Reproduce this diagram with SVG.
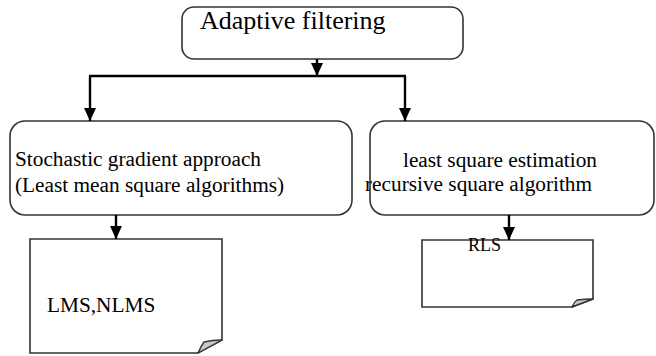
<svg xmlns="http://www.w3.org/2000/svg" width="656" height="356" viewBox="0 0 656 356">
  <defs>
    <marker id="head" markerUnits="userSpaceOnUse" markerWidth="13" markerHeight="12" refX="13" refY="6" orient="auto" viewBox="0 0 13 12">
      <path d="M0 0 L13 6 L0 12 Z" fill="#000"/>
    </marker>
    <style>
      .box { fill: #fff; stroke: #333; stroke-width: 1.6; }
      .flap { fill: #c8c8c8; stroke: #333; stroke-width: 1.4; stroke-linejoin: round; }
      .label { font-family: "Liberation Serif", "Times New Roman", serif; fill: #000; }
      .link { fill: none; stroke: #000; stroke-width: 2.4; }
      .arrow { fill: none; stroke: #000; stroke-width: 2.4; marker-end: url(#head); }
    </style>
  </defs>
  <rect width="656" height="356" fill="#fff"/>

  <g id="adaptive-filtering">
    <rect class="box" x="182" y="7" width="281" height="52" rx="12"/>
    <text class="label" x="200" y="29" font-size="26">Adaptive filtering</text>
  </g>

  <g id="stochastic-gradient">
    <rect class="box" x="10" y="121" width="342" height="94" rx="15"/>
    <text class="label" x="15" y="166" font-size="21.3">Stochastic gradient approach</text>
    <text class="label" x="15" y="192" font-size="21.3">(Least mean square algorithms)</text>
  </g>

  <g id="least-square">
    <rect class="box" x="370" y="121" width="284" height="94" rx="15"/>
    <text class="label" x="403" y="167" font-size="21.3">least square estimation</text>
    <text class="label" x="365" y="191" font-size="21.3">recursive square algorithm</text>
  </g>

  <g id="lms-nlms">
    <path class="box" d="M30 239 H222 V340 L198 353 H30 Z"/>
    <path class="flap" d="M198 353 Q201 346 204 342 Q212 340 222 340 Z"/>
    <text class="label" x="47" y="312" font-size="21.3">LMS,NLMS</text>
  </g>

  <g id="rls">
    <path class="box" d="M422 240 H593 V299 L572 307 H422 Z"/>
    <path class="flap" d="M572 307 Q574 302 577 300 Q585 299 593 299 Z"/>
    <text class="label" x="468" y="251" font-size="18">RLS</text>
  </g>

  <g id="connectors">
    <line class="arrow" x1="317" y1="59" x2="317" y2="76"/>
    <line class="link" x1="89" y1="76" x2="406" y2="76"/>
    <line class="arrow" x1="90" y1="76" x2="90" y2="121"/>
    <line class="arrow" x1="405" y1="76" x2="405" y2="121"/>
    <line class="arrow" x1="116" y1="215" x2="116" y2="239"/>
    <line class="arrow" x1="509" y1="215" x2="509" y2="240"/>
  </g>
</svg>
